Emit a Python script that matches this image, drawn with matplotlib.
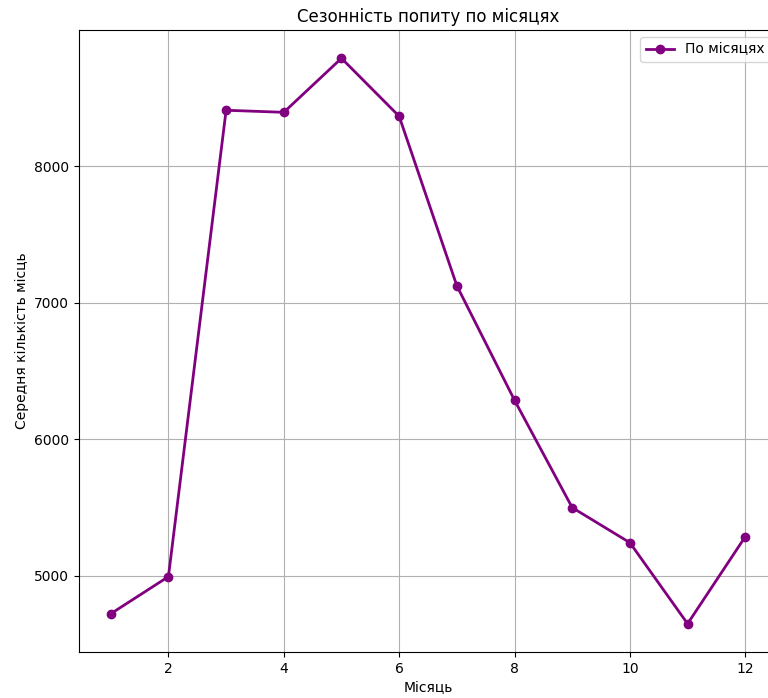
import matplotlib
matplotlib.use("Agg")
import matplotlib.pyplot as plt

# Середня кількість місць по місяцях
months = [1, 2, 3, 4, 5, 6, 7, 8, 9, 10, 11, 12]
avg_seats = [4721, 4993, 8411, 8396, 8792, 8367, 7125, 6286, 5499, 5242, 4648, 5286]

fig = plt.figure(figsize=(7.68, 6.98), dpi=100)
# axes run past the right edge, as in the cropped original
ax = fig.add_axes([79 / 768, 46 / 698, 698 / 768, 622 / 698])

ax.plot(months, avg_seats, marker="o", color="purple", linewidth=2, label="По місяцях")
ax.set_title("Сезонність попиту по місяцях", fontsize=12)
ax.set_xlabel("Місяць")
ax.set_ylabel("Середня кількість місць")
ax.grid(True)
ax.legend(loc="upper right")

fig.savefig("out.png", dpi=100)
